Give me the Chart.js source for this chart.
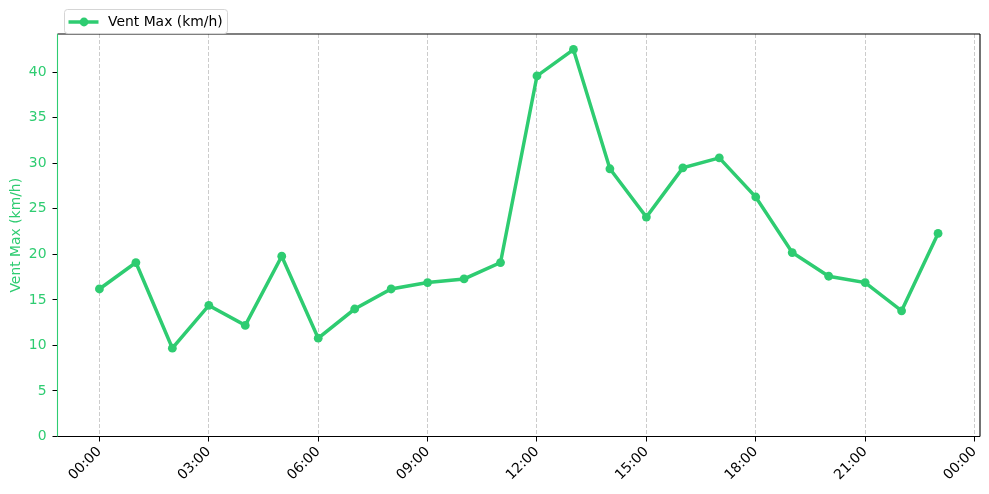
<!DOCTYPE html>
<html>
<head>
<meta charset="utf-8">
<script src="https://cdn.jsdelivr.net/npm/chart.js@4.4.1/dist/chart.umd.min.js"></script>
<style>
  html, body { margin: 0; padding: 0; background: #ffffff; }
  #wrap { width: 989px; height: 494px; }
</style>
</head>
<body>
<div id="wrap"><canvas id="c" width="989" height="494"></canvas></div>
<script>
// ---- data ----
const hours = [0, 1, 2, 3, 4, 5, 6, 7, 8, 9, 10, 11, 12, 13, 14, 15, 16, 17, 18, 19, 20, 21, 22, 23];
const ventMax = [16.2, 19.1, 9.7, 14.4, 12.2, 19.8, 10.8, 14.0, 16.2, 16.9, 17.3, 19.1,
                 39.6, 42.5, 29.4, 24.1, 29.5, 30.6, 26.3, 20.2, 17.6, 16.9, 13.8, 22.3];
const xTickHours = [0, 3, 6, 9, 12, 15, 18, 21, 24];
const xTickLabels = ['00:00', '03:00', '06:00', '09:00', '12:00', '15:00', '18:00', '21:00', '00:00'];
const yTicks = [0, 5, 10, 15, 20, 25, 30, 35, 40];
const seriesLabel = 'Vent Max (km/h)';

const GREEN = '#2ecc71';
const FONT = 'DejaVu Sans';

const spinesPlugin = {
  id: 'spines',
  afterDatasetsDraw(chart) {
    const { ctx, chartArea: a } = chart;
    ctx.save();
    ctx.lineWidth = 1.1;
    ctx.strokeStyle = '#000';
    ctx.beginPath();
    ctx.moveTo(a.left, a.top); ctx.lineTo(a.right, a.top);
    ctx.moveTo(a.right, a.top); ctx.lineTo(a.right, a.bottom);
    ctx.moveTo(a.left, a.bottom); ctx.lineTo(a.right, a.bottom);
    ctx.stroke();
    ctx.strokeStyle = GREEN;
    ctx.beginPath();
    ctx.moveTo(a.left, a.top); ctx.lineTo(a.left, a.bottom);
    ctx.stroke();
    ctx.restore();
  }
};

const legendPlugin = {
  id: 'customLegend',
  afterDraw(chart) {
    const { ctx, chartArea: a } = chart;
    const ds = chart.data.datasets[0];
    ctx.save();
    const bx = a.left + 7, by = a.top - 24.5, bw = 163, bh = 24;
    ctx.beginPath();
    ctx.roundRect(bx, by, bw, bh, 3);
    ctx.fillStyle = 'rgba(255,255,255,0.8)';
    ctx.fill();
    ctx.strokeStyle = '#d5d5d5';
    ctx.lineWidth = 1;
    ctx.stroke();
    const cy = by + bh / 2 + 0.5;
    ctx.strokeStyle = ds.borderColor;
    ctx.lineWidth = ds.borderWidth;
    ctx.beginPath();
    ctx.moveTo(bx + 4, cy); ctx.lineTo(bx + 34, cy);
    ctx.stroke();
    ctx.fillStyle = ds.borderColor;
    ctx.beginPath();
    ctx.arc(bx + 19.5, cy, ds.pointRadius, 0, Math.PI * 2);
    ctx.fill();
    ctx.fillStyle = '#000';
    ctx.font = '13.9px "' + FONT + '"';
    ctx.textBaseline = 'middle';
    ctx.textAlign = 'left';
    ctx.fillText(ds.label, bx + 43.5, cy);
    ctx.restore();
  }
};

new Chart(document.getElementById('c'), {
  type: 'line',
  data: {
    datasets: [{
      label: seriesLabel,
      data: hours.map((h, i) => ({ x: h, y: ventMax[i] })),
      borderColor: GREEN,
      backgroundColor: GREEN,
      borderWidth: 3.5,
      pointRadius: 4.4,
      pointBorderWidth: 0,
      pointBackgroundColor: GREEN,
      tension: 0,
      clip: false
    }]
  },
  options: {
    responsive: false,
    animation: false,
    devicePixelRatio: 1,
    layout: { padding: { left: 0, right: 9, top: 34, bottom: 0 } },
    plugins: { legend: { display: false }, tooltip: { enabled: false } },
    scales: {
      x: {
        type: 'linear',
        min: -1.15,
        max: 24.15,
        afterBuildTicks: s => { s.ticks = xTickHours.map(v => ({ value: v })); },
        afterFit: s => { s.height = 57.5; s.paddingLeft = 0; s.paddingRight = 0; },
        ticks: {
          autoSkip: false,
          maxRotation: 45,
          minRotation: 45,
          padding: 2,
          color: '#000',
          font: { family: FONT, size: 13.9 },
          callback: (v, i) => xTickLabels[i]
        },
        grid: {
          display: true,
          drawOnChartArea: true,
          color: '#cccccc',
          lineWidth: 1,
          drawTicks: true,
          tickLength: 5,
          tickColor: '#000',
          tickWidth: 1,
          tickBorderDash: []
        },
        border: { display: false, dash: [4, 2] }
      },
      y: {
        type: 'linear',
        min: 0,
        max: 44.2,
        afterBuildTicks: s => { s.ticks = yTicks.map(v => ({ value: v })); },
        afterFit: s => { s.width = 57.5; s.paddingTop = 0; s.paddingBottom = 0; },
        ticks: {
          color: GREEN,
          padding: 6,
          font: { family: FONT, size: 13.9 }
        },
        grid: {
          drawOnChartArea: false,
          drawTicks: true,
          tickLength: 5,
          tickColor: '#000',
          tickWidth: 1
        },
        border: { display: false },
        title: {
          display: true,
          text: seriesLabel,
          color: GREEN,
          font: { family: FONT, size: 13.9 },
          padding: { top: 8, bottom: 0 }
        }
      }
    }
  },
  plugins: [spinesPlugin, legendPlugin]
});
</script>
</body>
</html>
